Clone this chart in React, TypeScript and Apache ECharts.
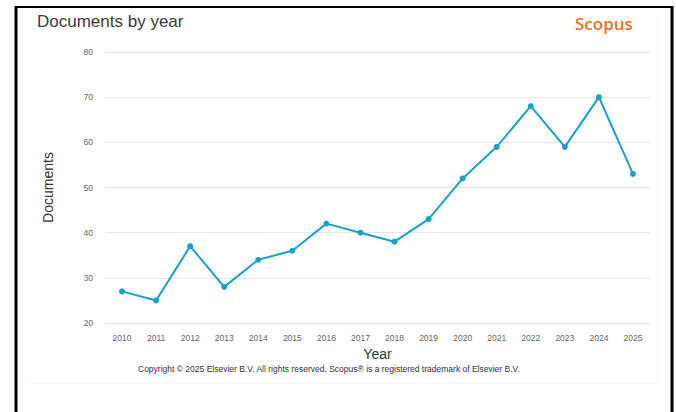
import React, { useEffect, useRef } from "react";
import * as echarts from "echarts";

const years = ["2010","2011","2012","2013","2014","2015","2016","2017","2018","2019","2020","2021","2022","2023","2024","2025"];
const documents = [27, 25, 37, 28, 34, 36, 42, 40, 38, 43, 52, 59, 68, 59, 70, 53];
const yTicks = { min: 20, max: 80, interval: 10 };

export default function App() {
  const ref = useRef<HTMLDivElement>(null);
  useEffect(() => {
    if (!ref.current) return;
    const chart = echarts.init(ref.current, null, { renderer: "svg" });
    const font = "Liberation Sans, Arial, sans-serif";
    chart.setOption({
      animation: false,
      backgroundColor: "#ffffff",
      grid: { left: 105, right: 26, top: 52, bottom: 89, containLabel: false },
      xAxis: {
        type: "category",
        data: years,
        boundaryGap: true,
        name: "Year",
        nameLocation: "middle",
        nameGap: 24,
        nameTextStyle: { fontFamily: font, fontSize: 14, color: "#333" },
        axisLine: { show: false },
        axisTick: { show: false },
        axisLabel: { fontFamily: font, fontSize: 8.5, color: "#666", margin: 10 },
      },
      yAxis: {
        type: "value",
        min: yTicks.min,
        max: yTicks.max,
        interval: yTicks.interval,
        name: "Documents",
        nameLocation: "middle",
        nameGap: 50,
        nameTextStyle: { fontFamily: font, fontSize: 14, color: "#333" },
        axisLine: { show: false },
        axisTick: { show: false },
        axisLabel: { fontFamily: font, fontSize: 8.5, color: "#666", margin: 12 },
        splitLine: { lineStyle: { color: "#e6e6e6", width: 1 } },
      },
      series: [
        {
          type: "line",
          data: documents,
          symbol: "circle",
          symbolSize: 6,
          lineStyle: { color: "#1b9fcc", width: 2 },
          itemStyle: { color: "#1b9fcc" },
        },
      ],
      graphic: [
        { type: "line", shape: { x1: 16, y1: 7, x2: 673, y2: 7 }, style: { stroke: "#000", lineWidth: 2 } },
        { type: "line", shape: { x1: 16, y1: 6, x2: 16, y2: 412 }, style: { stroke: "#000", lineWidth: 3 } },
        { type: "line", shape: { x1: 672, y1: 6, x2: 672, y2: 412 }, style: { stroke: "#000", lineWidth: 3 } },
        { type: "line", shape: { x1: 30, y1: 383, x2: 658, y2: 383 }, style: { stroke: "#f4f4f4", lineWidth: 1 } },
        { type: "line", shape: { x1: 658, y1: 20, x2: 658, y2: 383 }, style: { stroke: "#f6f6f6", lineWidth: 1 } },
        {
          type: "text", left: 37, top: 13,
          style: { text: "Documents by year", font: `17px ${font}`, fill: "#3a3a3a" },
        },
        {
          type: "text", left: 575, top: 15,
          style: { text: "Scopus", font: `600 17px "Open Sans", sans-serif`, fill: "#e8741f" },
        },
        {
          type: "text", left: 138, top: 364,
          style: { text: "Copyright \u00a9 2025 Elsevier B.V. All rights reserved. Scopus\u00ae is a registered trademark of Elsevier B.V.", font: `8.5px ${font}`, fill: "#333" },
        },
      ],
    });
    return () => chart.dispose();
  }, []);
  return <div ref={ref} style={{ position: "fixed", left: 0, top: 0, width: 676, height: 412 }} />;
}
